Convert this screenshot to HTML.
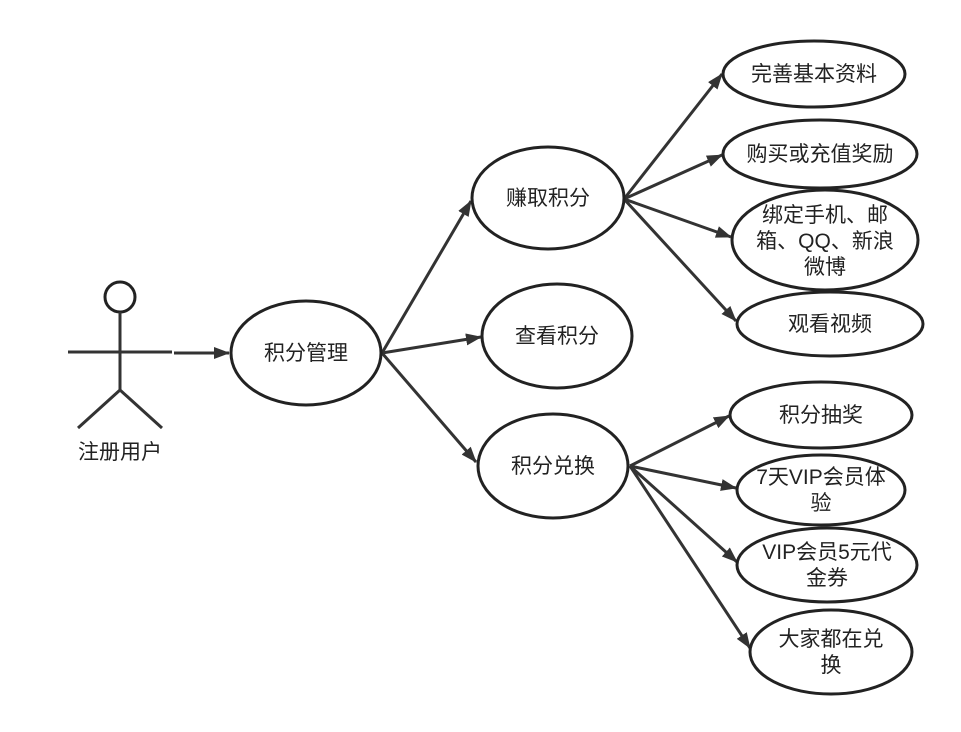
<!DOCTYPE html>
<html><head><meta charset="utf-8"><style>
html,body{margin:0;padding:0;background:#fff;}
svg{display:block;}
text{font-family:"Liberation Sans","Noto Sans CJK SC",sans-serif;font-size:21px;fill:#222;text-anchor:middle;}
</style></head><body>
<svg width="961" height="732" viewBox="0 0 961 732" xmlns="http://www.w3.org/2000/svg">
<defs><marker id="a" markerWidth="16" markerHeight="12" refX="15" refY="6" orient="auto" markerUnits="userSpaceOnUse" viewBox="0 0 16 12"><path d="M0,0 L16,6 L0,12 Z" fill="#333"/></marker></defs>
<g stroke="#333" stroke-width="3" fill="none">
<circle cx="120" cy="297" r="15" stroke="#222"/>
<line x1="120" y1="312" x2="120" y2="390"/>
<line x1="68" y1="352" x2="172" y2="352"/>
<line x1="120" y1="390" x2="78" y2="428"/>
<line x1="120" y1="390" x2="162" y2="428"/>
</g>
<g stroke="#333" stroke-width="3" fill="none">
<line x1="174" y1="353" x2="229" y2="353" marker-end="url(#a)"/>
<line x1="382" y1="353" x2="471" y2="201" marker-end="url(#a)"/>
<line x1="382" y1="353" x2="481" y2="337" marker-end="url(#a)"/>
<line x1="382" y1="353" x2="476" y2="462" marker-end="url(#a)"/>
<line x1="624" y1="199" x2="722" y2="74" marker-end="url(#a)"/>
<line x1="624" y1="199" x2="722" y2="155" marker-end="url(#a)"/>
<line x1="624" y1="199" x2="731" y2="237" marker-end="url(#a)"/>
<line x1="624" y1="199" x2="736" y2="321" marker-end="url(#a)"/>
<line x1="630" y1="466" x2="729" y2="416" marker-end="url(#a)"/>
<line x1="630" y1="466" x2="736" y2="488" marker-end="url(#a)"/>
<line x1="630" y1="466" x2="737" y2="562" marker-end="url(#a)"/>
<line x1="630" y1="466" x2="750" y2="648" marker-end="url(#a)"/>
</g>
<g stroke="#222" stroke-width="3" fill="#fff">
<ellipse cx="306" cy="353" rx="75" ry="52"/>
<ellipse cx="548" cy="198" rx="76" ry="51"/>
<ellipse cx="557" cy="336" rx="75" ry="52"/>
<ellipse cx="553" cy="466" rx="75" ry="52"/>
<ellipse cx="814" cy="74" rx="91" ry="33"/>
<ellipse cx="820" cy="154" rx="97" ry="34"/>
<ellipse cx="825" cy="240" rx="93" ry="50"/>
<ellipse cx="830" cy="324" rx="93" ry="32"/>
<ellipse cx="821" cy="415" rx="91" ry="33"/>
<ellipse cx="821" cy="490" rx="84" ry="35"/>
<ellipse cx="827" cy="565" rx="90" ry="37"/>
<ellipse cx="831" cy="652" rx="81" ry="42"/>
</g>
<text x="120" y="459">注册用户</text>
<text x="306" y="360">积分管理</text>
<text x="548" y="205">赚取积分</text>
<text x="557" y="343">查看积分</text>
<text x="553" y="473">积分兑换</text>
<text x="814" y="81">完善基本资料</text>
<text x="820" y="161">购买或充值奖励</text>
<text x="825" y="222">绑定手机、邮</text>
<text x="825" y="248">箱、QQ、新浪</text>
<text x="825" y="274">微博</text>
<text x="830" y="331">观看视频</text>
<text x="821" y="422">积分抽奖</text>
<text x="821" y="484">7天VIP会员体</text>
<text x="821" y="510">验</text>
<text x="827" y="559">VIP会员5元代</text>
<text x="827" y="585">金券</text>
<text x="831" y="646">大家都在兑</text>
<text x="831" y="672">换</text>
</svg>
</body></html>
